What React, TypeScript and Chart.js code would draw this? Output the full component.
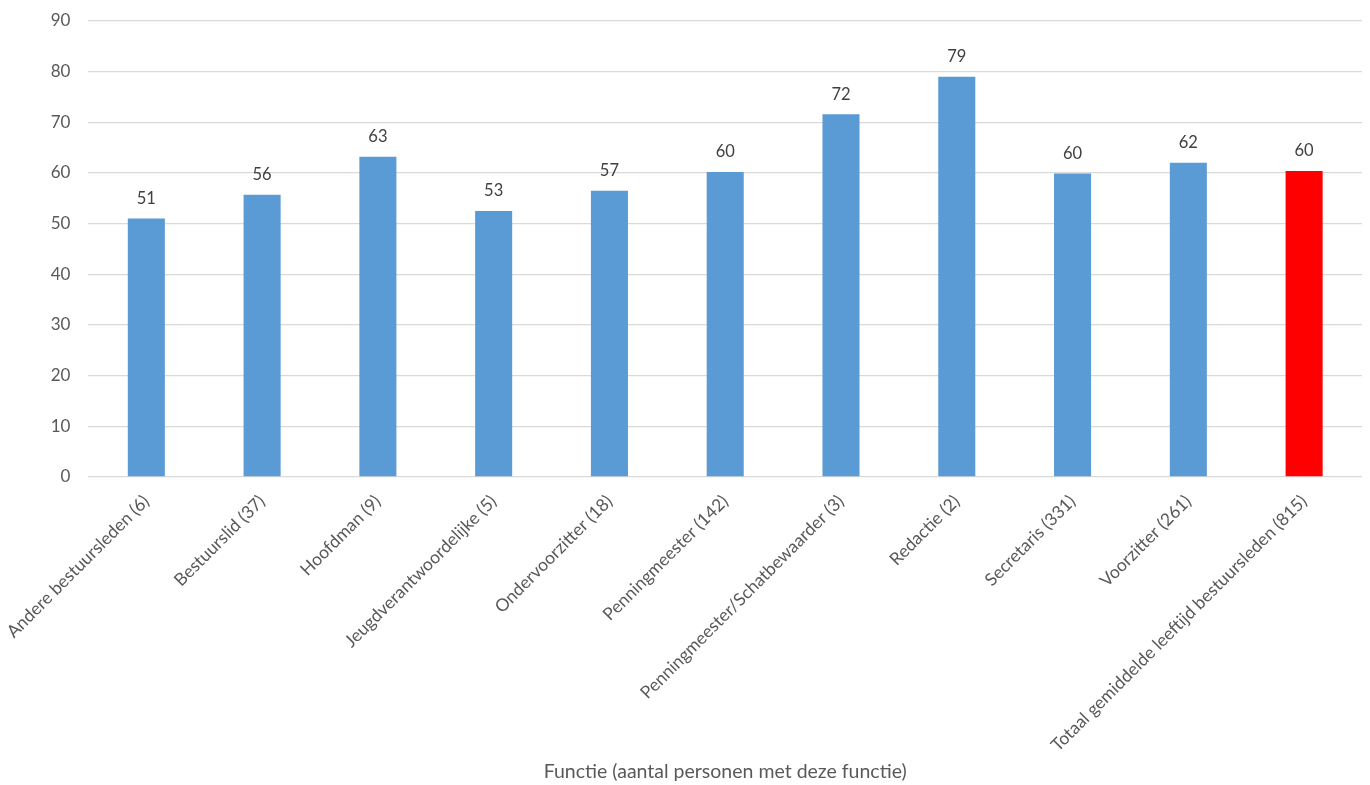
import React, { useEffect, useRef } from "react";
import { Chart, registerables } from "chart.js";

Chart.register(...registerables);

const categories: string[] = [
  "Andere bestuursleden (6)",
  "Bestuurslid (37)",
  "Hoofdman (9)",
  "Jeugdverantwoordelijke (5)",
  "Ondervoorzitter (18)",
  "Penningmeester (142)",
  "Penningmeester/Schatbewaarder (3)",
  "Redactie (2)",
  "Secretaris (331)",
  "Voorzitter (261)",
  "Totaal gemiddelde leeftijd bestuursleden (815)",
];

const averageAge: number[] = [51.0, 55.7, 63.2, 52.5, 56.5, 60.2, 71.6, 79.0, 59.9, 62.0, 60.4];

const yTicks: number[] = [0, 10, 20, 30, 40, 50, 60, 70, 80, 90];

const axisTitle = "Functie (aantal personen met deze functie)";

const BLUE = "#5B9BD5";
const RED = "#FF0000";
const FONT = "Lato, 'Liberation Sans', sans-serif";

const valueLabels = {
  id: "valueLabels",
  afterDatasetsDraw(chart: any) {
    const ctx = chart.ctx;
    const meta = chart.getDatasetMeta(0);
    const data = chart.data.datasets[0].data as number[];
    ctx.save();
    ctx.font = `16.5px ${FONT}`;
    ctx.fillStyle = "#404040";
    ctx.textAlign = "center";
    ctx.textBaseline = "middle";
    meta.data.forEach((bar: any, i: number) => {
      ctx.fillText(String(Math.round(data[i])), bar.x, bar.y - 20);
    });
    ctx.restore();
  },
};

export default function App() {
  const ref = useRef<HTMLCanvasElement | null>(null);

  useEffect(() => {
    document.body.style.margin = "0";
    if (!ref.current) return;
    const colors = categories.map((_, i) => (i === categories.length - 1 ? RED : BLUE));
    const chart = new Chart(ref.current, {
      type: "bar",
      data: {
        labels: categories,
        datasets: [
          {
            data: averageAge,
            backgroundColor: colors,
            borderWidth: 0,
            categoryPercentage: 1,
            barPercentage: 0.32,
          },
        ],
      },
      options: {
        responsive: true,
        maintainAspectRatio: false,
        animation: false,
        layout: { padding: { top: 21, right: 8, left: 0, bottom: 0 } },
        plugins: {
          legend: { display: false },
          tooltip: { enabled: false },
        },
        scales: {
          x: {
            grid: { display: false },
            border: { display: false },
            ticks: {
              minRotation: 45,
              maxRotation: 45,
              autoSkip: false,
              color: "#595959",
              font: { family: FONT, size: 17.5 },
              padding: 6,
            },
            title: {
              display: true,
              text: axisTitle,
              color: "#595959",
              font: { family: FONT, size: 19.5 },
              padding: { top: 2, bottom: 2 },
            },
            afterFit(scale: any) {
              scale.height = 308;
            },
          },
          y: {
            min: 0,
            max: 90,
            afterBuildTicks(scale: any) {
              scale.ticks = yTicks.map((v) => ({ value: v }));
            },
            grid: { color: "#D9D9D9", lineWidth: 1.3, drawTicks: false },
            border: { display: false },
            ticks: {
              color: "#595959",
              font: { family: FONT, size: 17 },
              padding: 18,
            },
            afterFit(scale: any) {
              scale.width = 88;
              scale.paddingTop = 0;
              scale.paddingBottom = 0;
            },
          },
        },
      },
      plugins: [valueLabels],
    });
    return () => chart.destroy();
  }, []);

  return (
    <div style={{ width: 1370, height: 785, position: "relative" }}>
      <canvas ref={ref} />
    </div>
  );
}
